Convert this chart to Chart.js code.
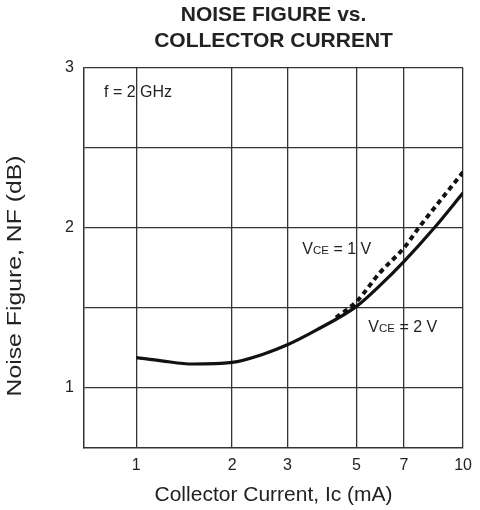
<!DOCTYPE html>
<html>
<head>
<meta charset="utf-8">
<script src="https://cdn.jsdelivr.net/npm/chart.js@4/dist/chart.umd.min.js"></script>
<style>
  html, body { margin: 0; padding: 0; background: #fff; }
  canvas { display: block; }
</style>
</head>
<body>
<canvas id="nf-chart" width="480" height="510"></canvas>
<script>
// Collector current (mA) and noise figure (dB) for the two bias points
const currentVce2 = [1, 1.2, 1.5, 2, 2.5, 3, 3.7, 5, 5.9, 7, 8.4, 10];
const nfVce2 = [1.19, 1.17, 1.15, 1.16, 1.21, 1.27, 1.36, 1.51, 1.64, 1.79, 2.0, 2.22];
const currentVce1 = [4.3, 5, 5.9, 7, 7.65, 10];
const nfVce1 = [1.44, 1.54, 1.72, 1.875, 2.0, 2.35];

const xTicks = [1, 2, 3, 5, 7, 10];
const yTicks = [1, 1.5, 2, 2.5, 3];
const yLabelled = [1, 2, 3];

const FONT = '"Liberation Sans", Arial, Helvetica, sans-serif';
const INK = '#222';

// Log axis whose decades are printed unevenly: positions are interpolated
// in log space between the grid values listed in options.warp
class WarpedLogScale extends Chart.LogarithmicScale {
  static id = 'warpedLog';

  toFraction(value) {
    const vals = this.options.warp.values;
    const fr = this.options.warp.fractions;
    const lv = Math.log10(value);
    let i = 1;
    while (i < vals.length - 1 && lv > Math.log10(vals[i])) i++;
    const a = Math.log10(vals[i - 1]);
    const b = Math.log10(vals[i]);
    return fr[i - 1] + (lv - a) / (b - a) * (fr[i] - fr[i - 1]);
  }

  getPixelForValue(value) {
    if (value === undefined || value === 0) value = this.min;
    if (value === null || isNaN(value)) return NaN;
    return this.getPixelForDecimal(this.toFraction(value));
  }

  getValueForPixel(pixel) {
    const vals = this.options.warp.values;
    const fr = this.options.warp.fractions;
    const d = this.getDecimalForPixel(pixel);
    let i = 1;
    while (i < fr.length - 1 && d > fr[i]) i++;
    const a = Math.log10(vals[i - 1]);
    const b = Math.log10(vals[i]);
    return Math.pow(10, a + (d - fr[i - 1]) / (fr[i] - fr[i - 1]) * (b - a));
  }
}
Chart.register(WarpedLogScale);

function toPoints(xs, ys) {
  return xs.map((x, i) => ({ x: x, y: ys[i] }));
}

// "VCE = n V" with the CE part set smaller
function drawVce(ctx, volts, x, y) {
  ctx.font = '16px ' + FONT;
  ctx.fillText('V', x, y);
  x += ctx.measureText('V').width;
  ctx.font = '11.5px ' + FONT;
  ctx.fillText('CE', x, y);
  x += ctx.measureText('CE').width;
  ctx.font = '16px ' + FONT;
  ctx.fillText(' = ' + volts + ' V', x, y);
}

const notes = {
  id: 'notes',
  afterDatasetsDraw(chart) {
    const { ctx, chartArea, scales: { x, y } } = chart;
    ctx.save();
    ctx.fillStyle = INK;
    ctx.textAlign = 'left';
    ctx.textBaseline = 'alphabetic';
    ctx.font = '16px ' + FONT;
    ctx.fillText('f = 2 GHz', chartArea.left + 20, chartArea.top + 29);
    drawVce(ctx, '1', x.getPixelForValue(3.35), y.getPixelForValue(1.84));
    drawVce(ctx, '2', x.getPixelForValue(5.44), y.getPixelForValue(1.35));

    // y axis title, sitting a little below the middle of the axis
    ctx.translate(15, (chartArea.top + chartArea.bottom) / 2 + 18);
    ctx.rotate(-Math.PI / 2);
    ctx.scale(1.18, 1);
    ctx.textAlign = 'center';
    ctx.textBaseline = 'middle';
    ctx.font = '21px ' + FONT;
    ctx.fillText('Noise Figure, NF (dB)', 0, 0);
    ctx.restore();
  }
};

const ctx = document.getElementById('nf-chart').getContext('2d');
new Chart(ctx, {
  type: 'line',
  data: {
    datasets: [
      {
        label: 'VCE = 2 V',
        data: toPoints(currentVce2, nfVce2),
        borderColor: '#111',
        borderWidth: 3.2,
        pointRadius: 0,
        cubicInterpolationMode: 'monotone',
        fill: false
      },
      {
        label: 'VCE = 1 V',
        data: toPoints(currentVce1, nfVce1),
        borderColor: '#111',
        borderWidth: 4,
        borderDash: [5, 4],
        pointRadius: 0,
        cubicInterpolationMode: 'monotone',
        fill: false
      }
    ]
  },
  options: {
    responsive: false,
    animation: false,
    devicePixelRatio: 1,
    layout: { padding: { left: 0, right: 12, top: 0, bottom: 0 } },
    plugins: {
      legend: { display: false },
      tooltip: { enabled: false },
      title: {
        display: true,
        fullSize: false,
        text: ['NOISE FIGURE vs.', 'COLLECTOR CURRENT'],
        color: INK,
        font: { family: FONT, size: 21, weight: 'bold', lineHeight: 1.25 },
        padding: { top: 2, bottom: 13.5 }
      }
    },
    scales: {
      x: {
        type: 'warpedLog',
        min: 0.684,
        max: 10,
        warp: {
          values: [0.684, 1, 2, 3, 5, 7, 10],
          fractions: [0, 0.138, 0.3906, 0.5365, 0.71875, 0.84375, 1]
        },
        afterBuildTicks: scale => { scale.ticks = xTicks.map(v => ({ value: v })); },
        afterFit: scale => { scale.height = 62; },
        ticks: {
          autoSkip: false,
          maxRotation: 0,
          padding: 8,
          color: INK,
          font: { family: FONT, size: 16 },
          callback: v => String(v)
        },
        grid: { color: '#333', lineWidth: 1.3, drawTicks: false },
        border: { display: true, color: '#333', width: 1.5 },
        title: {
          display: true,
          text: 'Collector Current, Ic (mA)',
          color: INK,
          font: { family: FONT, size: 21 },
          padding: { top: 0, bottom: 2 }
        }
      },
      y: {
        type: 'linear',
        min: 0.625,
        max: 3,
        afterBuildTicks: scale => { scale.ticks = yTicks.map(v => ({ value: v })); },
        afterFit: scale => { scale.width = 84; },
        ticks: {
          autoSkip: false,
          padding: 10,
          color: INK,
          font: { family: FONT, size: 16 },
          callback: v => (yLabelled.includes(v) ? String(v) : '')
        },
        grid: { color: '#333', lineWidth: 1.3, drawTicks: false },
        border: { display: true, color: '#333', width: 1.5 }
      }
    }
  },
  plugins: [notes]
});
</script>
</body>
</html>
